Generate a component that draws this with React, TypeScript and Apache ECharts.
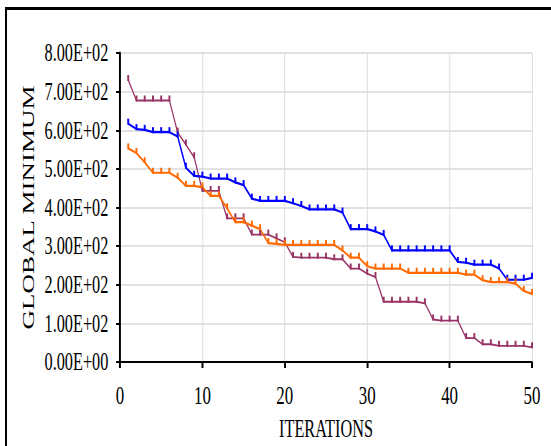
import React, { useEffect, useRef } from "react";
import * as echarts from "echarts";

const ITERATIONS = [1,2,3,4,5,6,7,8,9,10,11,12,13,14,15,16,17,18,19,20,21,22,23,24,25,26,27,28,29,30,31,32,33,34,35,36,37,38,39,40,41,42,43,44,45,46,47,48,49,50];

const BLUE = [617,603,601,595,595,595,584,503,482,480,475,475,475,465,458,423,417,417,417,417,411,404,395,395,395,395,387,344,344,344,338,329,289,289,289,289,289,289,289,289,259,257,252,252,252,242,213,213,213,218];

const ORANGE = [553,541,517,490,490,490,477,456,456,452,430,430,398,362,362,353,344,308,306,303,303,303,303,303,303,303,289,270,270,248,242,242,242,242,231,231,231,231,231,231,231,226,226,212,207,207,207,203,184,176];

const PURPLE = [730,677,677,677,677,677,594,563,530,443,443,443,372,372,372,330,330,330,320,310,272,270,270,270,270,266,266,242,242,229,220,156,156,156,156,156,152,110,107,107,107,62,62,46,46,42,42,42,42,38];

const X_TICKS = [0, 10, 20, 30, 40, 50];
const Y_MIN = 0;
const Y_MAX = 800;
const Y_STEP = 100;

const SX = 0.65;
const W_IN = 848;
const H = 446;
const FONT = "'Liberation Serif', 'Times New Roman', serif";

function sci(v: number): string {
  if (v === 0) return "0.00E+00";
  const e = Math.floor(Math.log10(Math.abs(v)));
  const m = v / Math.pow(10, e);
  const es = (e < 0 ? "-" : "+") + String(Math.abs(e)).padStart(2, "0");
  return m.toFixed(2) + "E" + es;
}

function pairs(ys: number[]) {
  return ys.map((y, i) => [ITERATIONS[i], y]);
}

export default function App() {
  const ref = useRef<HTMLDivElement>(null);
  useEffect(() => {
    if (!ref.current) return;
    const chart = echarts.init(ref.current, undefined, { renderer: "svg" });
    const mk = (name: string, color: string, data: number[], lw: number) => ({
      name,
      type: "line",
      data: pairs(data),
      showAllSymbol: true,
      symbol: "rect",
      symbolSize: [3, 6],
      symbolOffset: [0, -2],
      itemStyle: { color },
      lineStyle: { color, width: lw },
    });
    chart.setOption({
      animation: false,
      backgroundColor: "#ffffff",
      grid: { left: 184.6, right: 29.5, top: 53, bottom: 82, containLabel: false },
      xAxis: {
        type: "value",
        min: X_TICKS[0],
        max: X_TICKS[X_TICKS.length - 1],
        interval: 10,
        name: "ITERATIONS",
        nameLocation: "middle",
        nameGap: 54,
        nameTextStyle: { fontFamily: FONT, fontSize: 25, color: "#000" },
        axisLine: { show: true, onZero: false, lineStyle: { color: "#000", width: 2 } },
        axisTick: { show: true, inside: false, length: 6, lineStyle: { color: "#000", width: 3 } },
        axisLabel: { fontFamily: FONT, fontSize: 26, color: "#000", margin: 20 },
        splitLine: { show: true, lineStyle: { color: "#dcdcdc", width: 1.5 } },
      },
      yAxis: {
        type: "value",
        min: Y_MIN,
        max: Y_MAX,
        interval: Y_STEP,
        name: "GLOBAL MINIMUM",
        nameLocation: "middle",
        nameGap: 128,
        nameTextStyle: { fontFamily: FONT, fontSize: 27, color: "#000" },
        axisLine: { show: true, lineStyle: { color: "#000", width: 3 } },
        axisTick: { show: true, inside: false, length: 6, lineStyle: { color: "#000", width: 2 } },
        axisLabel: { fontFamily: FONT, fontSize: 25, color: "#000", margin: 18, formatter: (v: number) => sci(v) },
        splitLine: { show: true, lineStyle: { color: "#e2e2e2", width: 2 } },
      },
      series: [
        mk("Purple", "#993366", PURPLE, 1.8),
        mk("Blue", "#0000ff", BLUE, 2.2),
        mk("Orange", "#ff6a00", ORANGE, 2.2),
      ],
    });
    return () => chart.dispose();
  }, []);

  return (
    <div style={{ position: "absolute", left: 0, top: 0, width: 551, height: H, overflow: "hidden", background: "#fff" }}>
      <div
        ref={ref}
        style={{ position: "absolute", left: 0, top: 0, width: W_IN, height: H, transform: `scaleX(${SX})`, transformOrigin: "0 0" }}
      />
      <div
        style={{ position: "absolute", left: 5, top: 7, width: 600, height: 500, borderLeft: "2px solid #000", borderTop: "3px solid #000", pointerEvents: "none" }}
      />
    </div>
  );
}
